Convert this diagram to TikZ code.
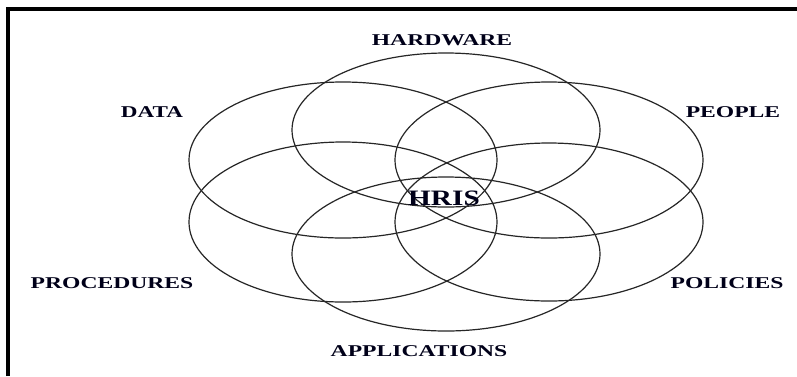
\documentclass[tikz,border=0pt]{standalone}
\usepackage{fontspec}
\setmainfont{Liberation Serif}
\begin{document}
\begin{tikzpicture}[x=1pt,y=-1pt,
  ring/.style={draw=black!85,line width=1.2pt},
  lbl/.style={font=\fontsize{16.5}{18}\selectfont\bfseries,text=black!90!blue,inner sep=0pt},
  hub/.style={font=\fontsize{22}{24}\selectfont\bfseries,text=black!90!blue,inner sep=0pt}]
\useasboundingbox (0,0) rectangle (797,376);
\fill[white] (0,0) rectangle (797,376);
\draw[line width=4pt] (8,376) -- (8,9) -- (797,9);
% ellipses
\draw[ring] (446,130) ellipse [x radius=154, y radius=77];
\draw[ring] (343,160) ellipse [x radius=154, y radius=78];
\draw[ring] (549,160) ellipse [x radius=154, y radius=78];
\draw[ring] (343,222) ellipse [x radius=154, y radius=80];
\draw[ring] (549,222) ellipse [x radius=154, y radius=79];
\draw[ring] (446,254) ellipse [x radius=154, y radius=77];
% labels
\node[lbl] (hw) at (442,40) {\scalebox{1.43}[1]{HARDWARE}};
\node[lbl] (da) at (152,112) {\scalebox{1.4}[1]{DATA}};
\node[lbl] (pe) at (733,112) {\scalebox{1.43}[1]{PEOPLE}};
\node[lbl] (pr) at (112,283) {\scalebox{1.43}[1]{PROCEDURES}};
\node[lbl] (po) at (727,283) {\scalebox{1.43}[1]{POLICIES}};
\node[lbl] (ap) at (419,351) {\scalebox{1.43}[1]{APPLICATIONS}};
\node[hub] (hr) at (444,198) {\scalebox{1.33}[1]{HRIS}};
\end{tikzpicture}
\end{document}
